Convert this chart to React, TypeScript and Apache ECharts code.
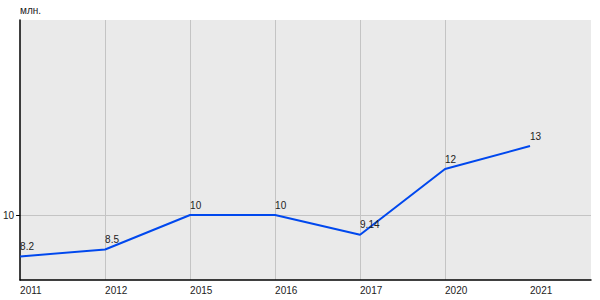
import React, { useEffect, useRef } from "react";
import * as echarts from "echarts";

const years = ["2011", "2012", "2015", "2016", "2017", "2020", "2021"];
const values = [8.2, 8.5, 10, 10, 9.14, 12, 13];
const yTicks = [10];
const unitLabel = "млн.";

export default function App() {
  const ref = useRef<HTMLDivElement>(null);
  useEffect(() => {
    if (!ref.current) return;
    const chart = echarts.init(ref.current, undefined, { renderer: "svg" });
    const idx = years.map((_, i) => i);
    const font = "Liberation Sans";
    chart.setOption({
      animation: false,
      grid: {
        left: 20,
        top: 20,
        right: 9,
        bottom: 20,
        show: true,
        backgroundColor: "#eaeaea",
        borderWidth: 0,
      },
      xAxis: {
        type: "value",
        min: 0,
        max: 571 / 85,
        axisLine: { show: true, onZero: false, lineStyle: { color: "#000", width: 1.5 } },
        axisTick: { show: false, customValues: idx },
        axisLabel: {
          customValues: idx,
          formatter: (v: number) => years[Math.round(v)] ?? "",
          align: "left",
          margin: 5,
          color: "#222",
          fontSize: 10,
          fontFamily: font,
        },
        splitLine: { show: true, showMinLine: false, showMaxLine: false, lineStyle: { color: "#c4c4c4", width: 1 } },
      },
      yAxis: {
        type: "value",
        min: 10 - 65 / 23,
        max: 10 + 195 / 23,
        name: unitLabel,
        nameLocation: "end",
        nameGap: 5,
        nameTextStyle: { align: "left", color: "#222", fontSize: 10, fontFamily: font },
        axisLine: { show: true, lineStyle: { color: "#000", width: 1.5 } },
        axisTick: { show: true, customValues: yTicks, length: 4, lineStyle: { color: "#000", width: 1 } },
        axisLabel: {
          customValues: yTicks,
          margin: 6,
          color: "#222",
          fontSize: 10,
          fontFamily: font,
          verticalAlign: "middle",
          lineHeight: 10,
          padding: [0, 0, 6, 0],
        },
        splitLine: { show: true, lineStyle: { color: "#c4c4c4", width: 1 } },
      },
      series: [
        {
          type: "line",
          data: values.map((v, i) => [i, v]),
          showSymbol: true,
          symbol: "circle",
          symbolSize: 0,
          lineStyle: { color: "#0048ee", width: 2 },
          itemStyle: { color: "#0048ee" },
          label: {
            show: true,
            position: "top",
            align: "left",
            distance: 5,
            formatter: (p: any) => String(p.value[1]),
            color: "#222",
            fontSize: 10,
            fontFamily: font,
          },
        },
      ],
    });
    return () => chart.dispose();
  }, []);
  return <div ref={ref} style={{ position: "absolute", left: 0, top: 0, width: 600, height: 300 }} />;
}
